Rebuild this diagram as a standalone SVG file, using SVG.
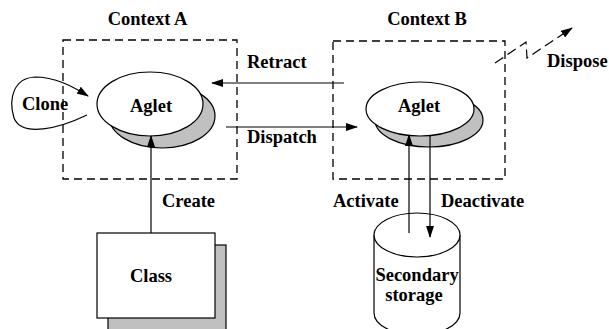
<svg xmlns="http://www.w3.org/2000/svg" width="609" height="329" viewBox="0 0 609 329">
<style>
text{font-family:"Liberation Serif","Times New Roman",serif;font-weight:bold;font-size:18.5px;fill:#000}
.ctx{fill:none;stroke:#000;stroke-width:1.3;stroke-dasharray:8,5}
.ln{fill:none;stroke:#000;stroke-width:1.2}
.sh{fill:#c0c0c0;stroke:#000;stroke-width:1.2}
.wh{fill:#fff;stroke:#000;stroke-width:1.2}
</style>
<defs>
<marker id="ah" markerWidth="12" markerHeight="8" refX="11" refY="4" orient="auto" markerUnits="userSpaceOnUse">
<path d="M0,0 L12,4 L0,8 z" fill="#000"/>
</marker>
</defs>
<g id="contextA">
<rect class="ctx" x="63" y="40" width="174" height="139"/>
<text x="147.5" y="25" text-anchor="middle">Context A</text>
</g>
<g id="contextB">
<rect class="ctx" x="333" y="41" width="172" height="138"/>
<text x="427" y="25" text-anchor="middle">Context B</text>
</g>
<g id="agletA">
<ellipse class="sh" cx="162" cy="116" rx="53" ry="32"/>
<ellipse class="wh" cx="150" cy="104" rx="53" ry="32"/>
<text x="151" y="112" text-anchor="middle">Aglet</text>
</g>
<g id="agletB">
<ellipse class="sh" cx="429" cy="120" rx="54" ry="27"/>
<ellipse class="wh" cx="420" cy="109" rx="54" ry="27"/>
<text x="419" y="112" text-anchor="middle">Aglet</text>
</g>
<g id="class">
<rect class="sh" x="108" y="245" width="118" height="90"/>
<rect class="wh" x="97" y="233" width="118" height="85"/>
<text x="151" y="282" text-anchor="middle">Class</text>
</g>
<g id="storage">
<path class="wh" d="M374,235 L374,313 A43,22 0 0 0 460,313 L460,235"/>
<ellipse class="wh" cx="417" cy="235" rx="43" ry="22"/>
<text x="417" y="281" text-anchor="middle">Secondary</text>
<text x="414" y="301" text-anchor="middle">storage</text>
</g>
<g id="connectors">
<line class="ln" x1="344" y1="83" x2="212" y2="83" marker-end="url(#ah)"/>
<line class="ln" x1="226" y1="127" x2="357" y2="127" marker-end="url(#ah)"/>
<line class="ln" x1="151" y1="233" x2="151" y2="136" marker-end="url(#ah)"/>
<line class="ln" x1="409" y1="233" x2="409" y2="135" marker-end="url(#ah)"/>
<line class="ln" x1="430" y1="136" x2="430" y2="237" marker-end="url(#ah)"/>
<path class="ln" d="M87,115 C60,128 22,138 14,118 C8,98 14,78 35,77 C55,77 72,86 88,96" marker-end="url(#ah)"/>
<path class="ln" stroke-dasharray="10,5" d="M495,63 L526,42 L527,58 L572,28" marker-end="url(#ah)"/>
</g>
<g id="labels">
<text x="247" y="68">Retract</text>
<text x="247" y="143">Dispatch</text>
<text x="22" y="110">Clone</text>
<text x="162" y="207">Create</text>
<text x="333" y="207">Activate</text>
<text x="441" y="207">Deactivate</text>
<text x="547" y="67">Dispose</text>
</g>
</svg>
